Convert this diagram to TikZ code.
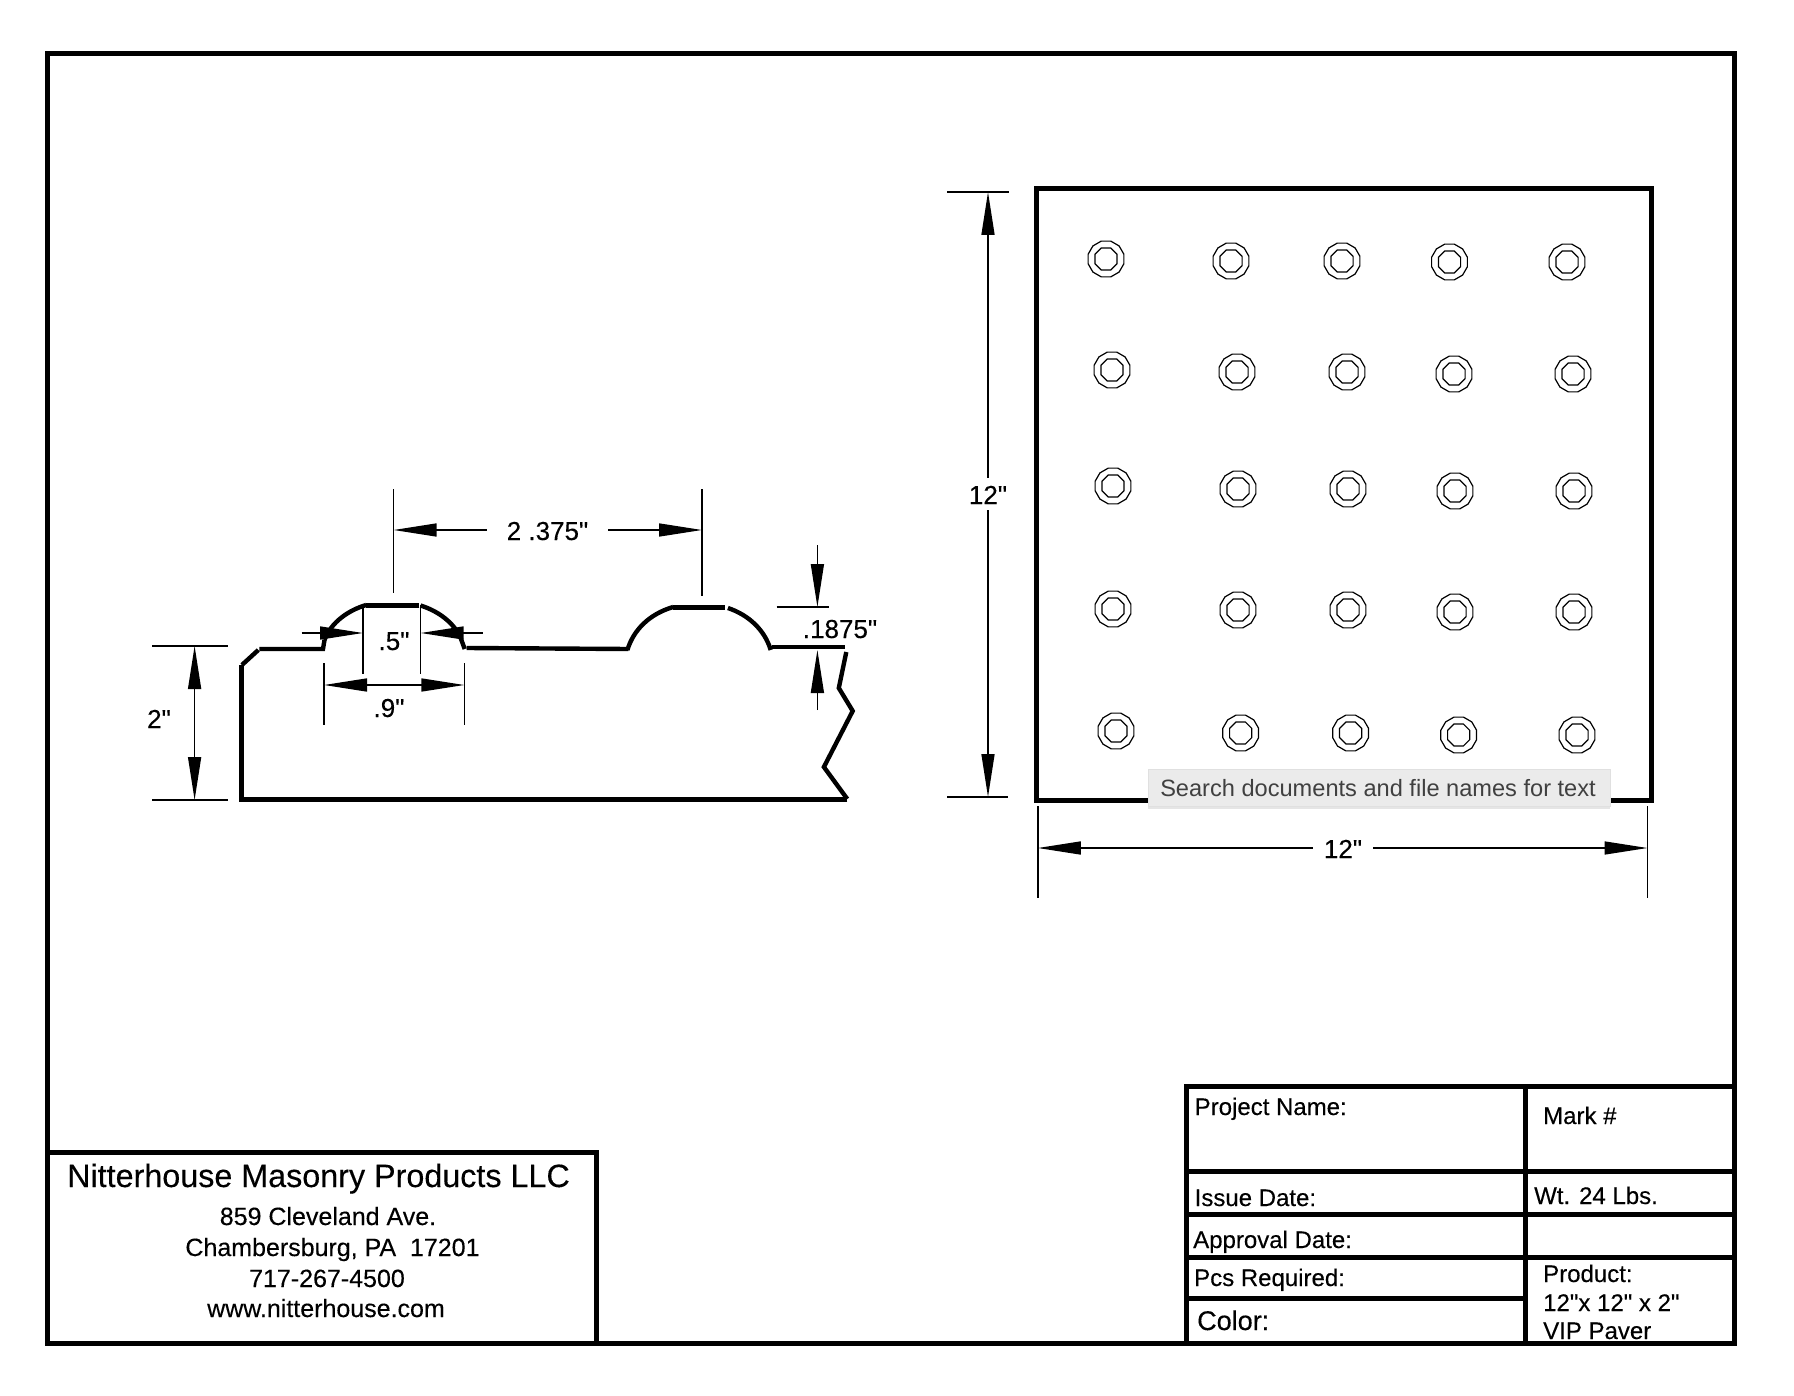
\documentclass[tikz,border=0pt]{standalone}
\usepackage{fontspec}
\setmainfont{Liberation Sans}[Ligatures = TeXOff, FakeBold = 0.25]
\newfontfamily\hintfont{Liberation Sans}
\usepackage{tikz}
\usetikzlibrary{shapes.geometric, arrows.meta, shadows}
\tikzstyle{heavy} = [draw, line width = 5pt]
\tikzstyle{rim} = [draw, line width = 4.4pt]
\tikzstyle{thin} = [draw, line width = 1.5pt]
\tikzstyle{dimone} = [draw, line width = 1.5pt, -{Triangle[length = 43pt, width = 13pt]}]
\tikzstyle{dimtwo} = [draw, line width = 1.5pt, {Triangle[length = 43pt, width = 13pt]}-{Triangle[length = 43pt, width = 13pt]}]
\tikzstyle{dimtext} = [anchor = center, inner ysep = 0pt, text height = 20pt, text depth = 0pt, font = \fontsize{26}{26}\selectfont]
\tikzstyle{dimfree} = [anchor = base, inner sep = 0pt, font = \fontsize{26}{26}\selectfont]
\tikzstyle{cell} = [anchor = base west, inner sep = 0pt, font = \fontsize{24}{24}\selectfont]
\tikzstyle{address} = [anchor = base, inner sep = 0pt, font = \fontsize{25}{25}\selectfont]
\tikzstyle{studout} = [regular polygon, regular polygon sides = 12, draw, line width = 1.2pt, inner sep = 0pt, minimum size = 37pt]
\tikzstyle{studin} = [regular polygon, regular polygon sides = 8, draw, line width = 1.2pt, inner sep = 0pt, minimum size = 24pt]
\tikzstyle{tooltip} = [anchor = north west, inner sep = 0pt, draw = black!12, fill = black!8, line width = 0.8pt, minimum width = 462pt, minimum height = 37pt, drop shadow = {shadow xshift = 0pt, shadow yshift = -3pt, opacity = 0.2}]
\newcommand{\pavstud}[3]{\node [studout] (#1o) at (#2, #3) {}; \node [studin] (#1i) at (#2, #3) {};}
\begin{document}
\begin{tikzpicture}[x = 1pt, y = -1pt]
	\useasboundingbox (0, 0) rectangle (1794, 1396);
	\path [fill = white] (0, 0) rectangle (1794, 1396);

	% Frame and title blocks
	\path [heavy] (47, 54) rectangle (1734, 1343);
	\path [heavy] (47, 1152) -- (596, 1152) -- (596, 1343);
	\path [heavy] (1186, 1343) -- (1186, 1086) -- (1734, 1086);
	\path [heavy] (1525.4, 1086) -- (1525.4, 1343);
	\path [heavy] (1186, 1171) -- (1734, 1171);
	\path [heavy] (1186, 1214) -- (1734, 1214);
	\path [heavy] (1186, 1257) -- (1734, 1257);
	\path [heavy] (1186, 1298) -- (1525.4, 1298);

	% Company text
	\node [anchor = base west, inner sep = 0pt, font = \fontsize{32.3}{32.3}\selectfont] (company) at (67, 1187) {Nitterhouse Masonry Products LLC};
	\node [address] (street) at (328, 1225) {859 Cleveland Ave.};
	\node [address] (city) at (332.5, 1256) {Chambersburg, PA\ \ 17201};
	\node [address] (phone) at (327, 1287) {717-267-4500};
	\node [address] (web) at (326, 1317) {www.nitterhouse.com};

	% Title block text
	\node [cell] (project) at (1194.5, 1115) {Project Name:};
	\node [cell] (mark) at (1543, 1124) {Mark \#};
	\node [cell] (issue) at (1194.5, 1206) {Issue Date:};
	\node [cell] (weight) at (1534, 1204) {Wt. 24 Lbs.};
	\node [cell] (approval) at (1193, 1248) {Approval Date:};
	\node [cell] (pieces) at (1194, 1286) {Pcs Required:};
	\node [cell, font = \fontsize{27}{27}\selectfont] (color) at (1197, 1330) {Color:};
	\node [cell] (product) at (1543, 1282) {Product:};
	\node [cell] (size) at (1543, 1311) {12"x 12" x 2"};
	\node [cell] (paver) at (1543, 1339) {VIP Paver};

	% Paver profile
	\path [heavy] (847.3, 799) -- (241.9, 799) -- (241.9, 665);
	\path [rim] (241.9, 665) -- (258.3, 650);
	\path [rim] (259.3, 649) -- (323, 649) -- (324.5, 640);
	\path [rim] (324.5, 640) .. controls (331, 622) and (349, 610) .. (366.2, 605);
	\path [heavy] (366.2, 605) -- (418.5, 605);
	\path [rim] (420.5, 605.5) .. controls (438, 611) and (453, 622) .. (460.3, 637) -- (464.7, 649);
	\path [rim] (466.7, 648) -- (628.4, 649);
	\path [rim] (627.4, 650) .. controls (633.4, 630) and (649.3, 614) .. (673.2, 607);
	\path [heavy] (673.2, 607) -- (725.4, 607);
	\path [rim] (727.9, 608) .. controls (748.8, 615) and (764.7, 630) .. (770.7, 650);
	\path [rim] (771.7, 647) -- (845.3, 647);
	\path [rim] (846.3, 652) -- (838.8, 688) -- (852.7, 711) -- (823.9, 767) -- (847.3, 799);

	% Profile dimensions
	\path [thin] (393.6, 489) -- (393.6, 593);
	\path [thin] (702, 489) -- (702, 596);
	\node [dimtext, inner xsep = 20pt] (twothree) at (547.5, 530) {2 .375"};
	\coordinate (twothreeleft) at (393.6, 530);
	\coordinate (twothreeright) at (702, 530);
	\path [dimone] (twothree) -- (twothreeleft);
	\path [dimone] (twothree) -- (twothreeright);

	\path [thin] (776.6, 607) -- (829, 607);
	\coordinate (riseup) at (817.4, 545);
	\coordinate (risetop) at (817.4, 607);
	\coordinate (risedown) at (817.4, 710);
	\coordinate (risebot) at (817.4, 650);
	\path [dimone] (riseup) -- (risetop);
	\path [dimone] (risedown) -- (risebot);
	\node [dimfree] (rise) at (840, 638) {.1875"};

	\path [thin] (152.3, 646) -- (228, 646);
	\path [thin] (152.3, 800) -- (228, 800);
	\coordinate (thicktop) at (194.6, 646);
	\coordinate (thickbot) at (194.6, 800);
	\path [dimtwo] (thicktop) -- (thickbot);
	\node [dimfree] (thick) at (159, 728) {2"};

	\path [thin] (363, 605) -- (363, 674);
	\path [thin] (420.7, 605) -- (420.7, 674);
	\coordinate (topfarl) at (301.7, 633);
	\coordinate (topnearl) at (363, 633);
	\coordinate (topfarr) at (482.7, 633);
	\coordinate (topnearr) at (420.7, 633);
	\path [dimone] (topfarl) -- (topnearl);
	\path [dimone] (topfarr) -- (topnearr);
	\node [dimfree] (topwidth) at (394, 650) {.5"};

	\path [thin] (324, 663) -- (324, 725);
	\path [thin] (464.3, 663) -- (464.3, 725);
	\coordinate (basel) at (324, 685);
	\coordinate (baser) at (464.3, 685);
	\path [dimtwo] (basel) -- (baser);
	\node [dimfree] (basewidth) at (389, 717) {.9"};

	% Paver plan
	\path [heavy] (1036.7, 189) rectangle (1651, 800);
	\pavstud{aa}{1106}{259} \pavstud{ab}{1231}{261} \pavstud{ac}{1342}{261} \pavstud{ad}{1449.5}{262} \pavstud{ae}{1567}{262}
	\pavstud{ba}{1112}{370} \pavstud{bb}{1237}{372} \pavstud{bc}{1347}{372} \pavstud{bd}{1454}{374} \pavstud{be}{1573}{374}
	\pavstud{ca}{1113}{486} \pavstud{cb}{1238}{489} \pavstud{cc}{1348}{489} \pavstud{cd}{1455}{491} \pavstud{ce}{1574}{491}
	\pavstud{da}{1113}{609} \pavstud{db}{1238}{610} \pavstud{dc}{1348}{610} \pavstud{dd}{1455}{612} \pavstud{de}{1574}{612}
	\pavstud{ea}{1116}{731} \pavstud{eb}{1240.7}{733} \pavstud{ec}{1350.6}{733} \pavstud{ed}{1458.7}{735} \pavstud{ee}{1577}{735}

	% Plan dimensions
	\path [thin] (947, 192) -- (1009, 192);
	\path [thin] (947, 797) -- (1008, 797);
	\node [dimtext, inner xsep = 0pt, inner ysep = 6pt] (height) at (988, 494) {12"};
	\coordinate (heighttop) at (988, 192);
	\coordinate (heightbot) at (988, 797);
	\path [dimone] (height) -- (heighttop);
	\path [dimone] (height) -- (heightbot);

	\path [thin] (1037.8, 806) -- (1037.8, 898);
	\path [thin] (1647.5, 806) -- (1647.5, 898);
	\node [dimtext, inner xsep = 11pt] (width) at (1343, 848) {12"};
	\coordinate (widthleft) at (1037.8, 848);
	\coordinate (widthright) at (1647.5, 848);
	\path [dimone] (width) -- (widthleft);
	\path [dimone] (width) -- (widthright);

	% Tooltip over the plan
	\node [tooltip] (hint) at (1148, 769) {};
	\node [anchor = base, inner sep = 0pt, text = black!75, font = \hintfont\fontsize{23.6}{24}\selectfont] (hinttext) at (1378, 796) {Search documents and file names for text};
\end{tikzpicture}
\end{document}
